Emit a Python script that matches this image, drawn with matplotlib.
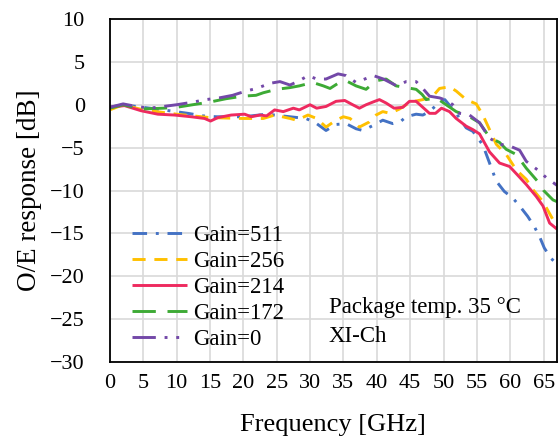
import matplotlib
matplotlib.use("Agg")
import matplotlib.pyplot as plt

# ---- data ----
f_511 = [0, 2, 4, 6, 8, 11.7, 14, 16, 20, 23.5, 27, 29.4, 31, 32.4, 33.9, 35.4, 36.9, 37.9,
         39.5, 40.9, 42.4, 43.5, 44.4, 45.9, 46.9, 47.9, 49.4, 50.2, 51.9, 53.4, 54.4, 55.9,
         56.9, 57.9, 59.1, 60.4, 61.4, 62.6, 63.6, 64.4, 65.1, 66.1, 67]
v_511 = [-0.3, 0.0, -0.2, -0.4, -0.6, -1.0, -1.3, -1.4, -1.4, -1.1, -1.4, -1.6, -2.2, -3.0, -2.3,
         -2.2, -2.8, -3.0, -2.4, -1.8, -2.2, -2.0, -1.4, -1.1, -1.2, -0.8, 0.3, 0.6, -1.0, -2.7,
         -3.1, -4.7, -6.8, -8.9, -10.1, -10.9, -11.8, -13.0, -14.2, -15.4, -16.7, -17.9, -18.6]

f_256 = [0, 2, 5, 10, 15, 20, 23, 24.7, 27, 28, 29.7, 31, 32.4, 33.9, 35, 36, 37.4, 38.9, 39.9,
         40.9, 42, 43.4, 45, 46.9, 48.4, 49.4, 50.9, 51.9, 53.4, 54.9, 55.9, 56.9, 57.9, 59.4,
         60.9, 62.4, 63.4, 64.9, 66.4, 67]
v_256 = [-0.6, 0.0, -0.6, -1.1, -1.5, -1.6, -1.6, -1.2, -1.6, -1.8, -1.2, -1.6, -2.6, -1.8, -1.4,
         -1.6, -2.6, -2.0, -1.2, -0.8, -1.0, -0.5, 0.3, 0.6, 1.0, 1.9, 2.1, 1.6, 0.6, 0.1, -1.2,
         -2.9, -4.6, -5.8, -7.6, -8.7, -9.9, -11.3, -13.4, -14.4]

f_214 = [0, 2.2, 4.7, 7.2, 9.7, 12.2, 14.2, 15.1, 16.2, 18.2, 20.2, 21.2, 22.5, 23.5, 24.7, 26,
         27.5, 28.4, 30, 31, 32.4, 33.9, 35.2, 36.4, 37.4, 38.4, 39.7, 40.4, 41.4, 42.6, 43.9,
         44.9, 45.9, 46.9, 47.9, 48.8, 49.7, 50.9, 51.9, 53.4, 54.4, 55.4, 56.9, 58.4, 59.9,
         61.1, 62.4, 63.9, 64.9, 65.9, 67]
v_214 = [-0.3, -0.1, -0.7, -1.1, -1.2, -1.4, -1.6, -1.9, -1.5, -1.2, -1.1, -1.4, -1.2, -1.3, -0.6,
         -0.8, -0.4, -0.6, 0.0, -0.4, -0.2, 0.4, 0.5, 0.0, -0.4, 0.0, 0.4, 0.6, 0.2, -0.4, -0.3,
         0.4, 0.4, -0.3, -1.0, -1.0, -0.4, -0.8, -1.6, -2.5, -2.9, -3.4, -5.5, -6.8, -7.2, -8.2,
         -9.3, -10.7, -11.8, -13.8, -14.5]

f_172 = [0, 2, 4.7, 8, 10, 12.4, 14.9, 17.4, 19.9, 21.9, 23, 25, 27, 28.4, 30.4, 32, 33, 34.4,
         35.4, 36.9, 38.4, 39.9, 41.4, 42.9, 44.4, 45.9, 46.8, 47.4, 48.9, 50.4, 51.9, 53.9,
         55.4, 56.9, 58.4, 59.4, 60.9, 62.4, 64.4, 65.0, 66.4, 67]
v_172 = [-0.4, 0.0, -0.5, -0.4, -0.3, 0.0, 0.3, 0.7, 1.0, 1.1, 1.4, 1.8, 2.0, 2.2, 2.6, 2.2, 1.9,
         2.6, 2.8, 2.2, 1.8, 2.8, 3.0, 2.2, 2.0, 1.8, 1.2, 0.6, 0.8, 0.0, -0.8, -1.4, -2.1, -3.8,
         -4.4, -5.2, -5.8, -7.4, -9.2, -10.0, -11.1, -11.3]

f_0 = [0, 2, 4, 6, 8, 10, 12.4, 14.4, 16.4, 18.4, 20.4, 22, 24, 25.5, 27, 28.4, 29.7, 31, 32.4,
       34.2, 35.4, 36.9, 38.2, 39.5, 41, 42, 43, 44.4, 45.9, 46.9, 47.9, 49.4, 50.5, 51.4, 52.4,
       53.9, 55.4, 56.9, 58.4, 59.9, 61.4, 62.4, 64.1, 65.4, 67]
v_0 = [-0.3, 0.1, -0.2, -0.4, -0.2, 0.0, 0.3, 0.6, 0.8, 1.1, 1.6, 1.9, 2.5, 2.7, 2.3, 2.8, 3.4,
       3.0, 3.0, 3.6, 3.4, 2.6, 3.0, 3.4, 3.0, 2.6, 2.2, 2.7, 2.7, 1.9, 1.0, 0.8, 0.5, 0.0, -1.0,
       -1.2, -2.1, -3.9, -4.6, -4.8, -5.3, -6.6, -7.6, -8.5, -9.4]

labels = ["Gain=511", "Gain=256", "Gain=214", "Gain=172", "Gain=0"]
x_ticks = [0, 5, 10, 15, 20, 25, 30, 35, 40, 45, 50, 55, 60, 65]
y_ticks = [-30, -25, -20, -15, -10, -5, 0, 5, 10]

plt.rcParams['font.family'] = ['Liberation Serif', 'DejaVu Serif']

fig = plt.figure(figsize=(5.6, 4.42), dpi=100)
ax = fig.add_axes([0.196, 0.181, 0.7986, 0.776])

lw = 2.1
styles = [
    dict(color='#4472C4', dashes=(5, 3, 1, 3)),
    dict(color='#FFC000', dashes=(4.5, 3)),
    dict(color='#EE2A5F'),
    dict(color='#3DAA35', dashes=(8, 4)),
    dict(color='#7348A8', dashes=(8, 3, 1, 3, 1, 3)),
]
series = [(f_511, v_511), (f_256, v_256), (f_214, v_214), (f_172, v_172), (f_0, v_0)]
for (fx, vy), lab, st in zip(series, labels, styles):
    ax.plot(fx, vy, lw=lw, label=lab, solid_capstyle='butt', dash_capstyle='butt', **st)

ax.set_xlim(0, 67)
ax.set_ylim(-30, 10)
ax.set_xticks(x_ticks)
ax.set_yticks(y_ticks)
ax.grid(True, color='#d9d9d9', lw=1.2)
ax.set_axisbelow(True)
ax.tick_params(length=0, labelsize=16)
ax.tick_params(axis='x', pad=9)
ax.tick_params(axis='y', pad=18)
for s in ax.spines.values():
    s.set_color('black')
    s.set_linewidth(1.3)

ax.set_xlabel("Frequency [GHz]", fontsize=19, labelpad=15)
ax.set_ylabel("O/E response [dB]", fontsize=19.5, labelpad=6)

ax.legend(loc='upper left', bbox_to_anchor=(0.05, 0.40), frameon=False, fontsize=16.5,
          handlelength=2.4, handletextpad=0.25, labelspacing=0.22, borderpad=0,
          borderaxespad=0)

ax.text(0.49, 0.143, "Package temp. 35 \u00b0C", transform=ax.transAxes, fontsize=16.5)
ax.text(0.49, 0.058, "XI-Ch", transform=ax.transAxes, fontsize=16.5)

fig.savefig("out.png", dpi=100)
